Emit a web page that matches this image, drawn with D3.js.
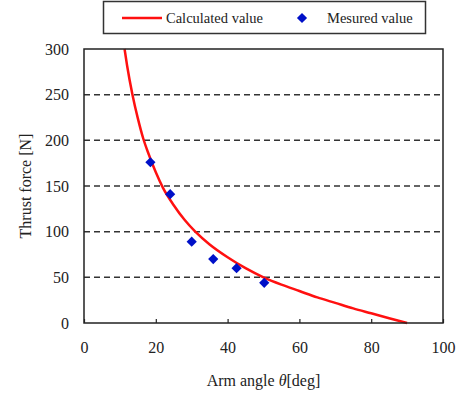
<!DOCTYPE html>
<html>
<head>
<meta charset="utf-8">
<script src="https://cdn.jsdelivr.net/npm/d3@7"></script>
<style>
  body { margin: 0; background: #fff; }
  text { font-family: "Liberation Serif", "Times New Roman", serif; fill: #222; }
</style>
</head>
<body>
<div id="container"></div>
<script>
/* CONSTANTS AND DATA */
const width = 464,
  height = 396,
  margin = { top: 49, bottom: 73, left: 84, right: 21 };

// calculated curve
const calcAngle = [11.3, 12, 13.5, 15, 16.5, 18, 20, 22, 25, 28, 31, 35, 40, 45, 50, 55, 60, 65, 70, 75, 80, 85, 90];
const calcForce = [300, 282, 250, 224, 202, 185, 165, 148, 129, 113, 100, 86, 72, 60, 50, 42, 35, 28, 22, 16, 10.6, 5.2, 0];

// measured points
const measAngle = [18.5, 24, 30, 36, 42.5, 50.2];
const measForce = [176, 141, 89, 70, 60, 44];

const xTicks = [0, 20, 40, 60, 80, 100];
const yTicks = [0, 50, 100, 150, 200, 250, 300];

const svg = d3.select("#container")
  .append("svg")
  .attr("width", width)
  .attr("height", height);

const x = d3.scaleLinear().domain([0, 100]).range([margin.left, width - margin.right]);
const y = d3.scaleLinear().domain([0, 300]).range([height - margin.bottom, margin.top]);

// DASHED GRID
svg.selectAll("line.grid")
  .data(yTicks.filter(d => d > 0 && d < 300))
  .join("line")
  .attr("class", "grid")
  .attr("x1", x(0))
  .attr("x2", x(100))
  .attr("y1", d => y(d))
  .attr("y2", d => y(d))
  .attr("stroke", "#333")
  .attr("stroke-width", 1.5)
  .attr("stroke-dasharray", "6,4");

// AXES
svg.append("g")
  .attr("transform", `translate(0,${y(0)})`)
  .call(d3.axisBottom(x).tickValues(xTicks).tickSizeInner(-4).tickSizeOuter(0).tickPadding(19))
  .call(g => g.select(".domain").remove())
  .call(g => g.selectAll("line").attr("stroke", "#222").attr("stroke-width", 1.2))
  .call(g => g.selectAll("text").style("font-size", "16px").attr("fill", "#222").style("font-family", "Liberation Serif"));

svg.append("g")
  .attr("transform", `translate(${x(0)},0)`)
  .call(d3.axisLeft(y).tickValues(yTicks).tickSizeInner(0).tickSizeOuter(0).tickPadding(15))
  .call(g => g.select(".domain").remove())
  .call(g => g.selectAll("text").style("font-size", "16px").attr("fill", "#222").style("font-family", "Liberation Serif"));

// CALCULATED LINE
const calc = calcAngle.map((a, i) => ({ a, f: calcForce[i] }));
const line = d3.line()
  .x(d => x(d.a))
  .y(d => y(d.f))
  .curve(d3.curveMonotoneX);

svg.append("path")
  .datum(calc)
  .attr("d", line)
  .attr("fill", "none")
  .attr("stroke", "#ff1010")
  .attr("stroke-width", 2.5);

// MEASURED POINTS
const meas = measAngle.map((a, i) => ({ a, f: measForce[i] }));
const diamond = d3.symbol(d3.symbolSquare, 52);
svg.selectAll("path.meas")
  .data(meas)
  .join("path")
  .attr("class", "meas")
  .attr("d", diamond)
  .attr("transform", d => `translate(${x(d.a)},${y(d.f)}) rotate(45)`)
  .attr("fill", "#0010c8");

// FRAME
svg.append("rect")
  .attr("x", x(0))
  .attr("y", y(300))
  .attr("width", x(100) - x(0))
  .attr("height", y(0) - y(300))
  .attr("fill", "none")
  .attr("stroke", "#222")
  .attr("stroke-width", 1.5);

// AXIS TITLES
const xTitle = svg.append("text")
  .attr("x", (x(0) + x(100)) / 2)
  .attr("y", 386)
  .attr("text-anchor", "middle")
  .style("font-size", "16px");
xTitle.append("tspan").text("Arm angle ");
xTitle.append("tspan").style("font-style", "italic").text("θ");
xTitle.append("tspan").text("[deg]");

svg.append("text")
  .attr("transform", `translate(31,${(y(0) + y(300)) / 2}) rotate(-90)`)
  .attr("text-anchor", "middle")
  .style("font-size", "16px")
  .text("Thrust force [N]");

// LEGEND
const legend = svg.append("g");
legend.append("rect")
  .attr("x", 103.5)
  .attr("y", 1.5)
  .attr("width", 322)
  .attr("height", 32)
  .attr("fill", "#fff")
  .attr("stroke", "#333")
  .attr("stroke-width", 1.5);

legend.append("line")
  .attr("x1", 122).attr("x2", 162)
  .attr("y1", 18).attr("y2", 18)
  .attr("stroke", "#ff1010")
  .attr("stroke-width", 2.5);

legend.append("text")
  .attr("x", 166).attr("y", 23)
  .style("font-size", "14.5px")
  .text("Calculated value");

legend.append("path")
  .attr("d", diamond)
  .attr("transform", "translate(302,18) rotate(45)")
  .attr("fill", "#0010c8");

legend.append("text")
  .attr("x", 327).attr("y", 23)
  .style("font-size", "14.5px")
  .text("Mesured value");
</script>
</body>
</html>
